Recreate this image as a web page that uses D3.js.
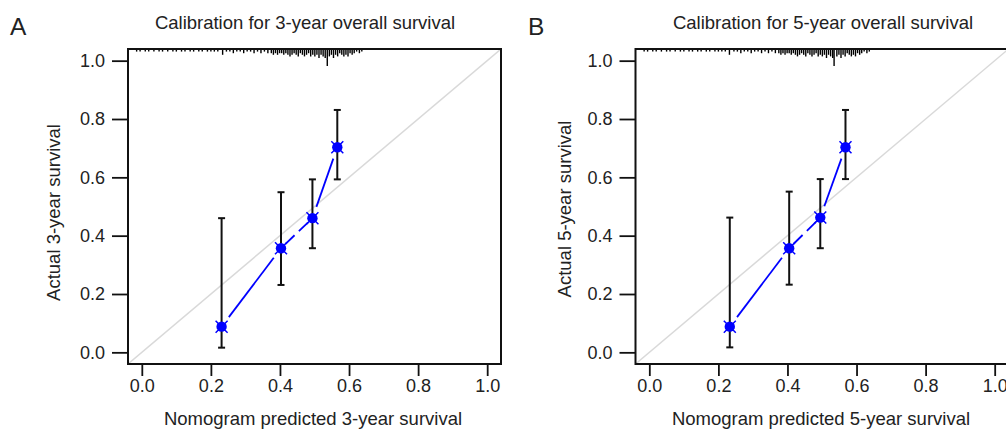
<!DOCTYPE html>
<html>
<head>
	<script src="https://d3js.org/d3.v7.min.js"></script>
	<meta charset="UTF-8">
	<style>
		body{ margin: 0; background-color: #ffffff; }
		text{ font-family: "Liberation Sans", Arial, Helvetica, sans-serif; }
	</style>
</head>
<body>
	<script type="text/javascript">
		// calibration points
		var predA = [0.231, 0.403, 0.494, 0.566];
		var obsA  = [0.088, 0.357, 0.460, 0.703];
		var lowA  = [0.016, 0.231, 0.357, 0.593];
		var highA = [0.460, 0.549, 0.593, 0.831];

		var predB = [0.233, 0.405, 0.495, 0.568];
		var obsB  = [0.088, 0.357, 0.462, 0.703];
		var lowB  = [0.017, 0.232, 0.357, 0.594];
		var highB = [0.462, 0.551, 0.594, 0.831];

		var ticks = [0, 0.2, 0.4, 0.6, 0.8, 1.0];

		// spike histogram of predicted values along the top (x, relative count)
		var rugXA = [-0.015,-0.005,0.01,0.02,0.035,0.05,0.06,0.075,0.09,0.1,0.115,0.125,0.14,0.15,0.165,0.175,0.19,0.2,0.21,0.22,0.234,0.245,0.255,0.265,0.275,0.285,0.295,0.305,0.315,0.325,0.335,0.345,0.355,0.365,0.375,0.381,0.387,0.393,0.399,0.405,0.411,0.417,0.423,0.429,0.435,0.441,0.447,0.453,0.459,0.465,0.471,0.477,0.483,0.489,0.495,0.501,0.507,0.513,0.519,0.525,0.531,0.537,0.543,0.549,0.555,0.561,0.567,0.573,0.579,0.585,0.591,0.597,0.603,0.609,0.615,0.622,0.630,0.637];
		var rugNA = [1,1,1,1,1,1,1,1,1,1,1,1,1,1,1,1,1,1,1,1,3,1,1,2,1,1,2,1,1,2,1,2,1,2,2,3,2,3,2,2,3,2,3,4,3,2,3,4,2,3,4,3,2,4,3,4,3,5,3,4,5,10,4,3,5,3,4,2,3,4,3,4,2,3,2,1,2,1];

		var rugXB = [-0.015,-0.005,0.01,0.02,0.035,0.05,0.06,0.075,0.09,0.1,0.115,0.125,0.14,0.15,0.165,0.175,0.19,0.2,0.21,0.22,0.232,0.245,0.255,0.265,0.275,0.285,0.295,0.305,0.315,0.325,0.335,0.345,0.355,0.365,0.375,0.381,0.387,0.393,0.399,0.405,0.411,0.417,0.423,0.429,0.435,0.441,0.447,0.453,0.459,0.465,0.471,0.477,0.483,0.489,0.495,0.501,0.507,0.513,0.519,0.525,0.531,0.535,0.543,0.549,0.555,0.561,0.567,0.573,0.579,0.585,0.591,0.597,0.603,0.609,0.615,0.622,0.630,0.637];
		var rugNB = [1,1,1,1,1,1,1,1,1,1,1,1,1,1,1,1,1,1,1,1,3,1,1,2,1,1,2,1,1,2,1,2,1,2,2,3,2,3,2,2,3,2,3,4,3,2,3,4,2,3,4,3,2,4,3,4,3,5,3,4,5,10,4,3,5,3,4,2,3,4,3,4,2,3,2,1,2,1];

		var w = 1006;
		var h = 430;
		var svg = d3.select('body').append('svg').attr('width', w).attr('height', h);

		var plotTop = 49, plotBottom = 364, plotW = 373;
		var yScale = d3.scaleLinear().domain([-0.04, 1.04]).range([plotBottom, plotTop]);

		function panel(o){
			var xScale = d3.scaleLinear().domain([-0.04, 1.04]).range([o.left, o.left + plotW]);
			var g = svg.append("g");
			var clipId = "clip" + o.letter;
			svg.append("clipPath").attr("id", clipId).append("rect")
				.attr("x", o.left).attr("y", plotTop).attr("width", plotW).attr("height", plotBottom - plotTop);

			//ideal line
			g.append("line").attr("clip-path", "url(#" + clipId + ")")
				.attr("x1", xScale(-0.04)).attr("y1", yScale(-0.04))
				.attr("x2", xScale(1.04)).attr("y2", yScale(1.04))
				.attr("stroke", "#d9d9d9").attr("stroke-width", 1.5);

			//rug on top
			var rugH = d3.scaleLinear().domain([0, 10]).range([0, 16]);
			g.selectAll(".rug").data(o.rugX).enter().append("line")
				.attr("x1", function(d){ return xScale(d); }).attr("x2", function(d){ return xScale(d); })
				.attr("y1", plotTop).attr("y2", function(d, i){ return plotTop + 1 + rugH(o.rugN[i]); })
				.attr("stroke", "#000").attr("stroke-width", 1.4);

			//axes
			var yAxis = d3.axisLeft(yScale).tickValues(ticks).tickSize(16).tickPadding(7).tickFormat(d3.format(".1f"));
			var xAxis = d3.axisBottom(xScale).tickValues(ticks).tickSize(12).tickPadding(3).tickFormat(d3.format(".1f"));
			var ya = g.append("g").attr("transform", "translate(" + o.left + ",0)").call(yAxis);
			var xa = g.append("g").attr("transform", "translate(0," + plotBottom + ")").call(xAxis);
			[ya, xa].forEach(function(a){
				a.select(".domain").remove();
				a.selectAll("line").attr("stroke", "#111").attr("stroke-width", 1.8);
				a.selectAll("text").attr("fill", "#222").style("font-size", "18px").style("font-family", "'Liberation Sans', Arial, sans-serif");
			});

			//box
			g.append("rect").attr("x", o.left).attr("y", plotTop).attr("width", plotW).attr("height", plotBottom - plotTop)
				.attr("fill", "none").attr("stroke", "#111").attr("stroke-width", 2);

			//connecting line, broken around the points
			var gap = 12;
			for (var i = 0; i < o.pred.length - 1; i++){
				var x1 = xScale(o.pred[i]), y1 = yScale(o.obs[i]);
				var x2 = xScale(o.pred[i+1]), y2 = yScale(o.obs[i+1]);
				var len = Math.sqrt((x2-x1)*(x2-x1) + (y2-y1)*(y2-y1));
				var g2 = len < 60 ? 6 : gap;
				var ux = (x2-x1)/len, uy = (y2-y1)/len;
				var seg = g.append("line")
					.attr("x1", x1 + ux*g2).attr("y1", y1 + uy*g2)
					.attr("x2", x2 - ux*g2).attr("y2", y2 - uy*g2)
					.attr("stroke", "#0000ff").attr("stroke-width", 1.8);
				if (len < 60){
					var vis = len - 2*g2;
					seg.attr("stroke-dasharray", ((vis-6)/2) + "," + 6);
				}
			}

			//error bars
			o.pred.forEach(function(p, i){
				var x = xScale(p);
				g.append("line").attr("x1", x).attr("x2", x).attr("y1", yScale(o.low[i])).attr("y2", yScale(o.high[i]))
					.attr("stroke", "#111").attr("stroke-width", 2);
				[o.low[i], o.high[i]].forEach(function(v){
					g.append("line").attr("x1", x - 3.5).attr("x2", x + 3.5).attr("y1", yScale(v)).attr("y2", yScale(v))
						.attr("stroke", "#111").attr("stroke-width", 2);
				});
			});

			//points and X marks
			o.pred.forEach(function(p, i){
				var x = xScale(p), y = yScale(o.obs[i]);
				g.append("circle").attr("cx", x).attr("cy", y).attr("r", 5.2).attr("fill", "#0000ff");
				var s = 6;
				g.append("path").attr("d", "M" + (x-s) + "," + (y-s) + "L" + (x+s) + "," + (y+s) + "M" + (x-s) + "," + (y+s) + "L" + (x+s) + "," + (y-s))
					.attr("stroke", "#0000ff").attr("stroke-width", 1.5);
			});

			//texts
			svg.append("text").attr("x", o.titleX).attr("y", 29).attr("text-anchor", "middle")
				.style("font-size", "18.5px").attr("fill", "#222").text(o.title);
			svg.append("text").attr("x", o.xlabX).attr("y", 425).attr("text-anchor", "middle")
				.style("font-size", "18.5px").attr("fill", "#222").text(o.xlab);
			svg.append("text").attr("transform", "translate(" + o.ylabX + "," + o.ylabY + ") rotate(-90)")
				.attr("text-anchor", "middle").style("font-size", "18.5px").attr("fill", "#222").text(o.ylab);
			svg.append("text").attr("x", o.letterX).attr("y", 35)
				.style("font-size", "24.5px").attr("fill", "#222").text(o.letter);
		}

		panel({letter: "A", left: 128, pred: predA, obs: obsA, low: lowA, high: highA, rugX: rugXA, rugN: rugNA,
			title: "Calibration for 3-year overall survival", xlab: "Nomogram predicted 3-year survival", ylab: "Actual 3-year survival",
			titleX: 305, xlabX: 313, ylabX: 60, ylabY: 212.5, letterX: 10});
		panel({letter: "B", left: 635.5, pred: predB, obs: obsB, low: lowB, high: highB, rugX: rugXB, rugN: rugNB,
			title: "Calibration for 5-year overall survival", xlab: "Nomogram predicted 5-year survival", ylab: "Actual 5-year survival",
			titleX: 823, xlabX: 821, ylabX: 571, ylabY: 209, letterX: 528});
	</script>
</body>
</html>
